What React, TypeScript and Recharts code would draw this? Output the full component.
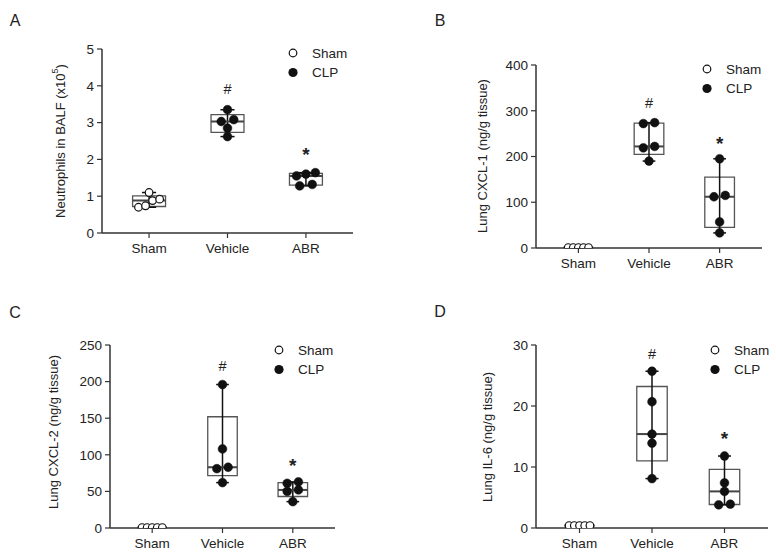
import React from 'react';
import { ScatterChart, Scatter, XAxis, YAxis, ReferenceArea, ReferenceLine, Legend } from 'recharts';

// ---------- data ----------
const groups = ['Sham', 'Vehicle', 'ABR'];
const seriesNames = ['Sham', 'CLP'];

const neutroSham = [0.7, 0.74, 0.88, 0.92, 1.1];
const neutroVehicle = [2.62, 2.85, 3.03, 3.08, 3.35];
const neutroABR = [1.28, 1.32, 1.55, 1.6, 1.64];

const cxcl1Sham = [1, 1, 1, 1, 1];
const cxcl1Vehicle = [190, 219, 222, 272, 274];
const cxcl1ABR = [33, 57, 112, 115, 195];

const cxcl2Sham = [0.6, 0.6, 0.6, 0.6, 0.6];
const cxcl2Vehicle = [62, 81, 83, 108, 196];
const cxcl2ABR = [36, 50, 52, 61, 63];

const il6Sham = [0.4, 0.4, 0.4, 0.4, 0.4];
const il6Vehicle = [8.1, 13.9, 15.4, 20.7, 25.7];
const il6ABR = [3.8, 3.9, 6.0, 7.4, 11.8];

const yTicksA = [0, 1, 2, 3, 4, 5];
const yTicksB = [0, 100, 200, 300, 400];
const yTicksC = [0, 50, 100, 150, 200, 250];
const yTicksD = [0, 10, 20, 30];

const hashValues = [3.9, 316, 221, 28.5];
const starValues = [2.12, 228, 86, 14.6];

const yLabels = ['Neutrophils in BALF (x10', 'Lung CXCL-1 (ng/g tissue)', 'Lung CXCL-2 (ng/g tissue)', 'Lung IL-6 (ng/g tissue)'];
const panelLetters = ['A', 'B', 'C', 'D'];

// ---------- helpers ----------
const median = (s: number[]) => {
  const n = s.length;
  if (n === 0) return 0;
  return n % 2 ? s[(n - 1) / 2] : (s[n / 2 - 1] + s[n / 2]) / 2;
};
const stats = (v: number[]) => {
  const s = [...v].sort((a, b) => a - b);
  const n = s.length;
  return {
    min: s[0],
    max: s[n - 1],
    med: median(s),
    q1: median(s.slice(0, Math.floor(n / 2))),
    q3: median(s.slice(Math.ceil(n / 2))),
  };
};

// spread near-equal values side by side (beeswarm-like)
const swarm = (vals: number[], center: number, yMax: number) => {
  const s = [...vals].sort((a, b) => a - b);
  const thr = yMax * 0.03;
  const clusters: number[][] = [];
  s.forEach((v, i) => {
    if (i > 0 && v - s[i - 1] < thr) clusters[clusters.length - 1].push(v);
    else clusters.push([v]);
  });
  const out: { x: number; y: number }[] = [];
  clusters.forEach((c) => {
    const n = c.length;
    const step = Math.min(0.16, 0.36 / n);
    c.forEach((v, i) => out.push({ x: center + (i - (n - 1) / 2) * step, y: v }));
  });
  return out;
};

const FONT = '"Liberation Sans", Arial, sans-serif';
const TXT = '#222';

const OpenDot = (p: any) => <circle cx={p.cx} cy={p.cy} r={3.8} fill="#fff" stroke="#111" strokeWidth={1.2} />;
const FilledDot = (p: any) => <circle cx={p.cx} cy={p.cy} r={4.4} fill="#111" stroke="#111" strokeWidth={0.5} />;
const makeMark = (t: string, size: number, weight: string) => (p: any) => (
  <text x={p.cx} y={p.cy} textAnchor="middle" dominantBaseline="central" fontSize={size} fontWeight={weight} fontFamily={FONT} fill={TXT}>
    {t}
  </text>
);

const LegendBox = () => (
  <svg width={90} height={38} style={{ display: 'block' }}>
    <circle cx={8} cy={8} r={3.8} fill="#fff" stroke="#111" strokeWidth={1.2} />
    <circle cx={8} cy={27.5} r={4.6} fill="#111" />
    <text x={27} y={8} dominantBaseline="central" fontSize={13.5} fontFamily={FONT} fill={TXT}>{seriesNames[0]}</text>
    <text x={27} y={27.5} dominantBaseline="central" fontSize={13.5} fontFamily={FONT} fill={TXT}>{seriesNames[1]}</text>
  </svg>
);

type PanelCfg = {
  idx: number;
  left: number; top: number; width: number; height: number;
  margin: { top: number; right: number; bottom: number; left: number };
  yTicks: number[];
  sham: number[]; vehicle: number[]; abr: number[];
  letterPos: [number, number];
  labelPos: [number, number];
  legendPos: [number, number];
};

const panels: PanelCfg[] = [
  { idx: 0, left: 0, top: 0, width: 390, height: 280, margin: { top: 49, right: 37, bottom: 17, left: 62 }, yTicks: yTicksA,
    sham: neutroSham, vehicle: neutroVehicle, abr: neutroABR, letterPos: [15, 20], labelPos: [60, 141], legendPos: [285, 45] },
  { idx: 1, left: 390, top: 0, width: 386, height: 280, margin: { top: 65, right: 14, bottom: 2, left: 106 }, yTicks: yTicksB,
    sham: cxcl1Sham, vehicle: cxcl1Vehicle, abr: cxcl1ABR, letterPos: [50, 20], labelPos: [92, 156], legendPos: [309, 61] },
  { idx: 2, left: 0, top: 280, width: 390, height: 280, margin: { top: 65, right: 55, bottom: 2, left: 70 }, yTicks: yTicksC,
    sham: cxcl2Sham, vehicle: cxcl2Vehicle, abr: cxcl2ABR, letterPos: [15, 32], labelPos: [53, 152], legendPos: [271, 62] },
  { idx: 3, left: 390, top: 280, width: 386, height: 280, margin: { top: 65, right: 8, bottom: 2, left: 106 }, yTicks: yTicksD,
    sham: il6Sham, vehicle: il6Vehicle, abr: il6ABR, letterPos: [50, 31], labelPos: [97, 157], legendPos: [317, 62] },
];

const BOX_HALF = 0.21;
const CAP_HALF = 0.09;

const Panel = ({ cfg }: { cfg: PanelCfg }) => {
  const yMax = cfg.yTicks[cfg.yTicks.length - 1];
  const groupVals = [cfg.sham, cfg.vehicle, cfg.abr];
  const shamPts = swarm(cfg.sham, 1, yMax);
  const clpPts = [...swarm(cfg.vehicle, 2, yMax), ...swarm(cfg.abr, 3, yMax)];
  const hashPts = [{ x: 2, y: hashValues[cfg.idx] }];
  const starPts = [{ x: 3, y: starValues[cfg.idx] }];

  const boxEls: React.ReactNode[] = [];
  groupVals.forEach((vals, gi) => {
    const c = gi + 1;
    const st = stats(vals);
    boxEls.push(
      <ReferenceLine key={`w${gi}`} segment={[{ x: c, y: st.min }, { x: c, y: st.max }]} stroke="#111" strokeWidth={1.5} ifOverflow="visible" />,
      <ReferenceLine key={`cmin${gi}`} segment={[{ x: c - CAP_HALF, y: st.min }, { x: c + CAP_HALF, y: st.min }]} stroke="#111" strokeWidth={1.5} ifOverflow="visible" />,
      <ReferenceLine key={`cmax${gi}`} segment={[{ x: c - CAP_HALF, y: st.max }, { x: c + CAP_HALF, y: st.max }]} stroke="#111" strokeWidth={1.5} ifOverflow="visible" />,
      <ReferenceArea key={`b${gi}`} x1={c - BOX_HALF} x2={c + BOX_HALF} y1={st.q1} y2={st.q3} fill="none" stroke="#555" strokeWidth={1.3} ifOverflow="visible" />,
      <ReferenceLine key={`m${gi}`} segment={[{ x: c - BOX_HALF, y: st.med }, { x: c + BOX_HALF, y: st.med }]} stroke="#444" strokeWidth={2} ifOverflow="visible" />,
    );
  });

  const [lx, ly] = cfg.labelPos;
  return (
    <div style={{ position: 'absolute', left: cfg.left, top: cfg.top, width: cfg.width, height: cfg.height }}>
      <ScatterChart width={cfg.width} height={cfg.height} margin={cfg.margin}>
        <XAxis
          type="number"
          dataKey="x"
          domain={[0.4, 3.6]}
          ticks={[1, 2, 3]}
          tickFormatter={(v: number) => groups[Math.round(v) - 1]}
          allowDataOverflow
          height={30}
          tickSize={5}
          tickMargin={5}
          axisLine={{ stroke: '#333', strokeWidth: 1.5 }}
          tickLine={{ stroke: '#333', strokeWidth: 1.2 }}
          tick={{ fill: TXT, fontSize: 13.5, fontFamily: FONT }}
        />
        <YAxis
          type="number"
          dataKey="y"
          domain={[0, yMax]}
          ticks={cfg.yTicks}
          interval={0}
          allowDataOverflow
          width={40}
          tickSize={5}
          tickMargin={3}
          axisLine={{ stroke: '#333', strokeWidth: 1.5 }}
          tickLine={{ stroke: '#333', strokeWidth: 1.2 }}
          tick={{ fill: TXT, fontSize: 13.5, fontFamily: FONT }}
        />
        {boxEls}
        <Scatter name={seriesNames[0]} data={shamPts} shape={OpenDot} isAnimationActive={false} />
        <Scatter name={seriesNames[1]} data={clpPts} shape={FilledDot} isAnimationActive={false} />
        <Scatter name="#" data={hashPts} shape={makeMark('#', 14.5, 'normal')} legendType="none" isAnimationActive={false} />
        <Scatter name="*" data={starPts} shape={makeMark('*', 19, 'bold')} legendType="none" isAnimationActive={false} />
        <Legend
          layout="vertical"
          align="center"
          verticalAlign="middle"
          content={() => <LegendBox />}
          wrapperStyle={{ left: cfg.legendPos[0], top: cfg.legendPos[1], width: 90, height: 38 }}
        />
      </ScatterChart>
      <svg width={cfg.width} height={cfg.height} style={{ position: 'absolute', left: 0, top: 0, pointerEvents: 'none' }}>
        <text x={cfg.letterPos[0]} y={cfg.letterPos[1]} textAnchor="middle" dominantBaseline="central" fontSize={16} fontFamily={FONT} fill={TXT}>
          {panelLetters[cfg.idx]}
        </text>
        <text
          x={lx}
          y={ly}
          transform={`rotate(-90 ${lx} ${ly})`}
          textAnchor="middle"
          dominantBaseline="central"
          fontSize={13}
          fontFamily={FONT}
          fill={TXT}
        >
          {yLabels[cfg.idx]}
          {cfg.idx === 0 ? (
            <>
              <tspan fontSize={9} dy={-5}>5</tspan>
              <tspan dy={5}>)</tspan>
            </>
          ) : null}
        </text>
      </svg>
    </div>
  );
}

export default function App() {
  return (
    <div style={{ position: 'absolute', left: 0, top: 0, width: 776, height: 560, background: '#fff', fontFamily: FONT }}>
      {panels.map((p) => (
        <Panel key={p.idx} cfg={p} />
      ))}
    </div>
  );
}
